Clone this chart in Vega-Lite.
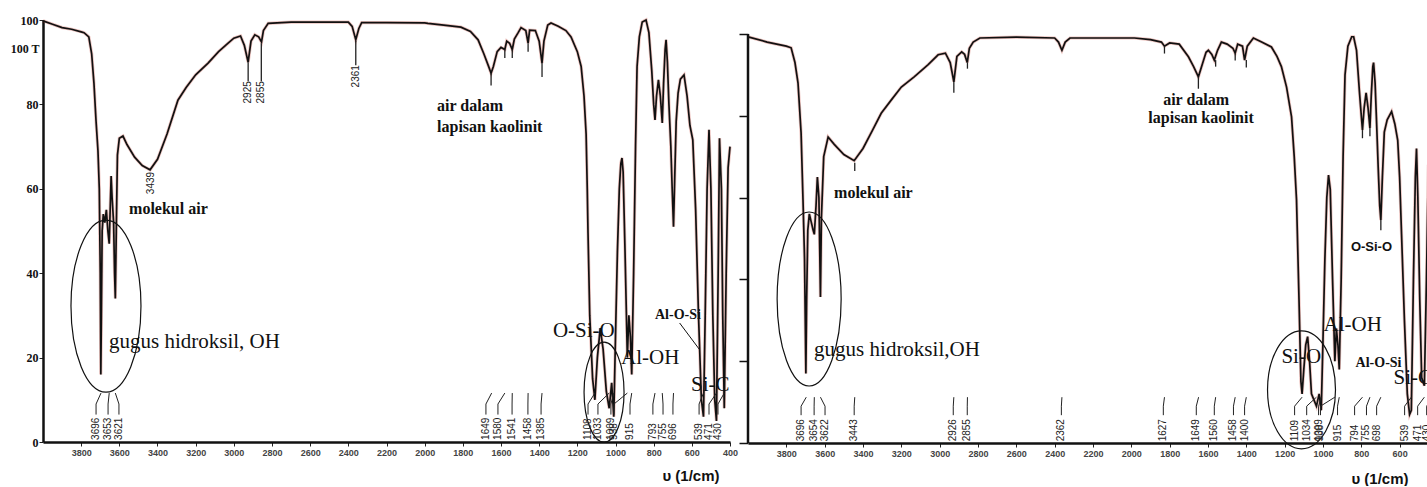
{
"$schema":"https://vega.github.io/schema/vega-lite/v6.json",
"autosize":{"type":"pad"},
"padding":{"left":9,"top":13,"right":0,"bottom":0},
"background":"white",
"config":{"view":{"stroke":null},"axis":{"grid":false}},
"datasets":{
"left":[
{"w":4000,"t":99.8},{"w":3950,"t":99.0},{"w":3900,"t":98.2},{"w":3850,"t":97.8},{"w":3800,"t":97.2},{"w":3785,"t":97.0},{"w":3760,"t":96},{"w":3745,"t":92},{"w":3733,"t":85},{"w":3722,"t":76},{"w":3712,"t":69},{"w":3705,"t":60},{"w":3700,"t":40},{"w":3697,"t":16},{"w":3694,"t":30},{"w":3690,"t":50},{"w":3684,"t":54},{"w":3676,"t":52},{"w":3668,"t":55},{"w":3660,"t":50},{"w":3653,"t":47},{"w":3648,"t":55},{"w":3643,"t":63},{"w":3638,"t":58},{"w":3630,"t":52},{"w":3625,"t":40},{"w":3621,"t":34},{"w":3616,"t":50},{"w":3610,"t":68},{"w":3600,"t":72},{"w":3581,"t":72.5},{"w":3560,"t":70.5},{"w":3520,"t":67.5},{"w":3480,"t":65.5},{"w":3439,"t":64.5},{"w":3400,"t":67},{"w":3350,"t":73},{"w":3293,"t":81},{"w":3250,"t":84},{"w":3200,"t":87},{"w":3135,"t":89.8},{"w":3080,"t":92.5},{"w":3030,"t":94.5},{"w":3000,"t":95.7},{"w":2965,"t":96.2},{"w":2945,"t":94},{"w":2925,"t":90},{"w":2910,"t":95},{"w":2890,"t":96.5},{"w":2870,"t":96},{"w":2855,"t":94.8},{"w":2845,"t":97.5},{"w":2820,"t":99.2},{"w":2700,"t":99.5},{"w":2500,"t":99.5},{"w":2400,"t":99.5},{"w":2380,"t":98.5},{"w":2361,"t":95.3},{"w":2345,"t":98},{"w":2330,"t":99.4},{"w":2200,"t":99.4},{"w":2000,"t":99.3},{"w":1983,"t":99.2},{"w":1900,"t":98.8},{"w":1810,"t":98.3},{"w":1760,"t":97.3},{"w":1720,"t":95.3},{"w":1690,"t":92},{"w":1665,"t":89},{"w":1652,"t":87.4},{"w":1640,"t":89},{"w":1620,"t":92.5},{"w":1600,"t":93.5},{"w":1580,"t":93},{"w":1570,"t":95},{"w":1555,"t":94.5},{"w":1541,"t":93},{"w":1530,"t":95.5},{"w":1510,"t":97},{"w":1495,"t":98.2},{"w":1470,"t":97.5},{"w":1458,"t":94.5},{"w":1450,"t":97.6},{"w":1420,"t":97.5},{"w":1400,"t":95},{"w":1385,"t":89.8},{"w":1375,"t":95},{"w":1355,"t":98.8},{"w":1338,"t":99.3},{"w":1300,"t":98.5},{"w":1260,"t":97.5},{"w":1233,"t":96},{"w":1200,"t":92.5},{"w":1180,"t":89},{"w":1165,"t":82},{"w":1154,"t":73},{"w":1148,"t":60},{"w":1144,"t":49.5},{"w":1135,"t":30},{"w":1120,"t":15},{"w":1108,"t":10},{"w":1095,"t":20},{"w":1080,"t":27},{"w":1065,"t":22},{"w":1048,"t":12},{"w":1033,"t":8},{"w":1020,"t":14},{"w":1009,"t":6},{"w":1000,"t":25},{"w":990,"t":45},{"w":980,"t":60},{"w":972,"t":66},{"w":966,"t":67.3},{"w":960,"t":64},{"w":950,"t":45},{"w":938,"t":20},{"w":930,"t":30},{"w":922,"t":25},{"w":915,"t":16},{"w":905,"t":40},{"w":895,"t":70},{"w":887,"t":89},{"w":875,"t":96},{"w":860,"t":99.5},{"w":840,"t":100},{"w":825,"t":97},{"w":810,"t":88},{"w":800,"t":80},{"w":793,"t":76.3},{"w":785,"t":82},{"w":775,"t":85.8},{"w":765,"t":82},{"w":755,"t":75.6},{"w":748,"t":85},{"w":740,"t":93},{"w":735,"t":95.3},{"w":728,"t":90},{"w":720,"t":80},{"w":710,"t":70},{"w":703,"t":60},{"w":696,"t":51},{"w":690,"t":62},{"w":682,"t":76},{"w":672,"t":82.7},{"w":660,"t":86},{"w":641,"t":87},{"w":625,"t":82},{"w":610,"t":75},{"w":595,"t":71.6},{"w":580,"t":55},{"w":565,"t":30},{"w":550,"t":10},{"w":539,"t":6},{"w":530,"t":30},{"w":520,"t":60},{"w":510,"t":74},{"w":500,"t":60},{"w":490,"t":30},{"w":480,"t":10},{"w":471,"t":5},{"w":462,"t":40},{"w":455,"t":72},{"w":445,"t":60},{"w":438,"t":30},{"w":430,"t":8},{"w":420,"t":40},{"w":410,"t":65},{"w":400,"t":70}
],
"right":[
{"w":4000,"t":99.3},{"w":3900,"t":98},{"w":3800,"t":97},{"w":3775,"t":96.6},{"w":3755,"t":93},{"w":3739,"t":88},{"w":3723,"t":75.8},{"w":3713,"t":59.4},{"w":3705,"t":45},{"w":3698,"t":17},{"w":3694,"t":35},{"w":3688,"t":52},{"w":3680,"t":56},{"w":3670,"t":54},{"w":3660,"t":52},{"w":3654,"t":51},{"w":3645,"t":58},{"w":3638,"t":65},{"w":3630,"t":60},{"w":3626,"t":48},{"w":3622,"t":35.7},{"w":3617,"t":55},{"w":3605,"t":70},{"w":3582,"t":74.8},{"w":3550,"t":73},{"w":3500,"t":70.5},{"w":3446,"t":69},{"w":3400,"t":72},{"w":3350,"t":76.5},{"w":3305,"t":80.6},{"w":3250,"t":84},{"w":3200,"t":87},{"w":3133,"t":89.5},{"w":3060,"t":92.5},{"w":3008,"t":94.9},{"w":2970,"t":95.3},{"w":2945,"t":93},{"w":2926,"t":88.3},{"w":2910,"t":94.5},{"w":2885,"t":95.6},{"w":2870,"t":95},{"w":2856,"t":93},{"w":2845,"t":96.5},{"w":2825,"t":98},{"w":2790,"t":99},{"w":2600,"t":99.2},{"w":2400,"t":99},{"w":2380,"t":98},{"w":2362,"t":96},{"w":2345,"t":98},{"w":2320,"t":99},{"w":2100,"t":99},{"w":1984,"t":99},{"w":1900,"t":98.6},{"w":1843,"t":98},{"w":1827,"t":97},{"w":1800,"t":97.8},{"w":1750,"t":97.5},{"w":1702,"t":94.4},{"w":1675,"t":92},{"w":1650,"t":89.5},{"w":1630,"t":92.5},{"w":1610,"t":95.5},{"w":1598,"t":96},{"w":1580,"t":95},{"w":1567,"t":93.6},{"w":1550,"t":96},{"w":1530,"t":98},{"w":1500,"t":97.5},{"w":1470,"t":96.5},{"w":1458,"t":95.3},{"w":1445,"t":97.5},{"w":1420,"t":97},{"w":1409,"t":93.6},{"w":1395,"t":97},{"w":1363,"t":99},{"w":1320,"t":98},{"w":1269,"t":96.8},{"w":1240,"t":94.5},{"w":1217,"t":92},{"w":1190,"t":87},{"w":1164,"t":79.7},{"w":1150,"t":70},{"w":1138,"t":59.4},{"w":1125,"t":35},{"w":1115,"t":15},{"w":1109,"t":12},{"w":1100,"t":18},{"w":1090,"t":24},{"w":1080,"t":26},{"w":1070,"t":20},{"w":1060,"t":12},{"w":1034,"t":9},{"w":1020,"t":12},{"w":1009,"t":8},{"w":1000,"t":25},{"w":990,"t":45},{"w":980,"t":60},{"w":971,"t":65.5},{"w":962,"t":62},{"w":950,"t":40},{"w":938,"t":20},{"w":930,"t":28},{"w":922,"t":24},{"w":915,"t":18},{"w":905,"t":40},{"w":895,"t":70},{"w":885,"t":90},{"w":870,"t":97},{"w":850,"t":99.3},{"w":840,"t":99.3},{"w":825,"t":96},{"w":810,"t":86},{"w":800,"t":80},{"w":794,"t":76.5},{"w":785,"t":82},{"w":775,"t":85.6},{"w":765,"t":82},{"w":755,"t":77},{"w":748,"t":85},{"w":740,"t":92},{"w":736,"t":93},{"w":728,"t":88},{"w":720,"t":78},{"w":712,"t":67.5},{"w":704,"t":58},{"w":698,"t":54.5},{"w":690,"t":65},{"w":680,"t":76},{"w":665,"t":79},{"w":642,"t":81},{"w":625,"t":78},{"w":610,"t":74},{"w":600,"t":65},{"w":590,"t":51},{"w":575,"t":30},{"w":560,"t":12},{"w":548,"t":7},{"w":539,"t":8},{"w":528,"t":40},{"w":518,"t":65},{"w":512,"t":72},{"w":505,"t":60},{"w":495,"t":35},{"w":485,"t":16},{"w":471,"t":14},{"w":460,"t":40},{"w":450,"t":68},{"w":440,"t":55},{"w":430,"t":12},{"w":420,"t":40},{"w":400,"t":60}
]
},
"hconcat":[
{
"width":687,"height":422,
"layer":[
{"data":{"name":"left"},
"mark":{"type":"line","color":"#c0392b","strokeWidth":3.2,"opacity":0.3},
"encoding":{
"x":{"field":"w","type":"quantitative","scale":{"domain":[4000,400],"nice":false,"zero":false},
"axis":{"values":[3800,3600,3400,3200,3000,2800,2600,2400,2200,2000,1800,1600,1400,1200,1000,800,600,400],"format":"d","labelFont":"Liberation Sans","labelFontSize":9,"labelFontWeight":"bold","labelColor":"#444","tickSize":4,"tickColor":"#222","domainColor":"#111","domainWidth":2.5,"labelPadding":2,"labelFlush":false,"labelOverlap":false,"title":"υ (1/cm)","titleFont":"Liberation Sans","titleFontSize":15,"titleFontWeight":"bold","titleColor":"#111","titleAlign":"right","titleBaseline":"middle","titleX":676,"titleY":33}},
"y":{"field":"t","type":"quantitative","scale":{"domain":[0,100],"nice":false,"zero":false},
"axis":{"values":[0,20,40,60,80,100],"labelFont":"Liberation Serif","labelFontSize":12,"labelFontWeight":"bold","labelColor":"#111","tickSize":4,"tickColor":"#222","domainWidth":2.5,"domainColor":"#111","labelPadding":1,"labelFlush":false,"title":"100 T","titleFont":"Liberation Serif","titleFontSize":12,"titleFontWeight":"bold","titleColor":"#111","titleAngle":0,"titleAlign":"right","titleBaseline":"middle","titleX":-4,"titleY":28}}
}},
{"data":{"name":"left"},
"mark":{"type":"line","color":"#111","strokeWidth":1.7},
"encoding":{"x":{"field":"w","type":"quantitative","scale":{"domain":[4000,400],"nice":false,"zero":false}},"y":{"field":"t","type":"quantitative","scale":{"domain":[0,100],"nice":false,"zero":false}}}},
{"data":{"values":[{"w":3670,"t":32.2}]},
"mark":{"type":"point","filled":false,"stroke":"#111","strokeWidth":1.2,"opacity":1,"size":29584,"shape":"M0,-1C0.2248,-1,0.407,-0.5523,0.407,0C0.407,0.5523,0.2248,1,0,1C-0.2248,1,-0.407,0.5523,-0.407,0C-0.407,-0.5523,-0.2248,-1,0,-1Z"},
"encoding":{"x":{"field":"w","type":"quantitative","scale":{"domain":[4000,400],"nice":false,"zero":false}},"y":{"field":"t","type":"quantitative","scale":{"domain":[0,100],"nice":false,"zero":false}}}},
{"data":{"values":[{"w":1060,"t":11.8}]},
"mark":{"type":"point","filled":false,"stroke":"#111","strokeWidth":1.2,"opacity":1,"size":10000,"shape":"M0,-1C0.2209,-1,0.4,-0.5523,0.4,0C0.4,0.5523,0.2209,1,0,1C-0.2209,1,-0.4,0.5523,-0.4,0C-0.4,-0.5523,-0.2209,-1,0,-1Z"},
"encoding":{"x":{"field":"w","type":"quantitative","scale":{"domain":[4000,400],"nice":false,"zero":false}},"y":{"field":"t","type":"quantitative","scale":{"domain":[0,100],"nice":false,"zero":false}}}},
{"data":{"values":[{"w":3654,"t":23.7,"label":"gugus hidroksil, OH"},{"w":1328,"t":26.3,"label":"O-Si-O"},{"w":971,"t":19.9,"label":"Al-OH"},{"w":604,"t":13.5,"label":"Si-C"}]},
"mark":{"type":"text","align":"left","baseline":"middle","font":"Liberation Serif","fontSize":21,"color":"#111","clip":true},
"encoding":{"x":{"field":"w","type":"quantitative","scale":{"domain":[4000,400],"nice":false,"zero":false}},"y":{"field":"t","type":"quantitative","scale":{"domain":[0,100],"nice":false,"zero":false}},"text":{"field":"label"}}},
{"data":{"values":[{"w":3549,"t":55.2,"label":"molekul air"},{"w":1935,"t":79.6,"label":"air dalam"},{"w":1935,"t":74.6,"label":"lapisan kaolinit"}]},
"mark":{"type":"text","align":"left","baseline":"middle","font":"Liberation Serif","fontSize":16,"fontWeight":"bold","color":"#111"},
"encoding":{"x":{"field":"w","type":"quantitative","scale":{"domain":[4000,400],"nice":false,"zero":false}},"y":{"field":"t","type":"quantitative","scale":{"domain":[0,100],"nice":false,"zero":false}},"text":{"field":"label"}}},
{"data":{"values":[{"w":673,"t":30,"label":"Al-O-Si"}]},
"mark":{"type":"text","align":"center","baseline":"middle","font":"Liberation Serif","fontSize":14,"fontWeight":"bold","color":"#111"},
"encoding":{"x":{"field":"w","type":"quantitative","scale":{"domain":[4000,400],"nice":false,"zero":false}},"y":{"field":"t","type":"quantitative","scale":{"domain":[0,100],"nice":false,"zero":false}},"text":{"field":"label"}}},
{"data":{"values":[{"w":664,"t":28.2,"w2":558,"t2":21.8}]},
"mark":{"type":"rule","color":"#111","strokeWidth":1},
"encoding":{"x":{"field":"w","type":"quantitative","scale":{"domain":[4000,400],"nice":false,"zero":false}},"x2":{"field":"w2"},"y":{"field":"t","type":"quantitative","scale":{"domain":[0,100],"nice":false,"zero":false}},"y2":{"field":"t2"}}},
{"data":{"values":[{"w":3722,"p":3696,"label":"3696"},{"w":3659,"p":3653,"label":"3653"},{"w":3602,"p":3621,"label":"3621"},{"w":1679,"p":1649,"label":"1649"},{"w":1616,"p":1580,"label":"1580"},{"w":1542,"p":1541,"label":"1541"},{"w":1459,"p":1458,"label":"1458"},{"w":1390,"p":1385,"label":"1385"},{"w":1144,"p":1108,"label":"1108"},{"w":1092,"p":1033,"label":"1033"},{"w":1024,"p":1009,"label":"1009"},{"w":1008,"p":938,"label":"938"},{"w":924,"p":915,"label":"915"},{"w":804,"p":793,"label":"793"},{"w":751,"p":755,"label":"755"},{"w":699,"p":696,"label":"696"},{"w":562,"p":539,"label":"539"},{"w":510,"p":471,"label":"471"},{"w":463,"p":430,"label":"430"}]},
"layer":[
{"mark":{"type":"text","angle":270,"align":"left","baseline":"middle","font":"Liberation Sans","fontSize":10,"color":"#222"},
"encoding":{"x":{"field":"w","type":"quantitative","scale":{"domain":[4000,400],"nice":false,"zero":false}},"y":{"datum":0.5,"type":"quantitative","scale":{"domain":[0,100],"nice":false,"zero":false}},"text":{"field":"label"}}},
{"mark":{"type":"rule","color":"#222","strokeWidth":1},
"encoding":{"x":{"field":"w","type":"quantitative","scale":{"domain":[4000,400],"nice":false,"zero":false}},"y":{"datum":6.5,"type":"quantitative","scale":{"domain":[0,100],"nice":false,"zero":false}},"y2":{"datum":9}}},
{"mark":{"type":"rule","color":"#222","strokeWidth":1},
"encoding":{"x":{"field":"w","type":"quantitative","scale":{"domain":[4000,400],"nice":false,"zero":false}},"x2":{"field":"p"},"y":{"datum":9,"type":"quantitative","scale":{"domain":[0,100],"nice":false,"zero":false}},"y2":{"datum":11.6}}}
]},
{"data":{"values":[{"w":3434,"t":64,"label":"3439"},{"w":2926,"t":85.5,"label":"2925"},{"w":2858,"t":85.5,"label":"2855"},{"w":2360,"t":89.3,"label":"2361"}]},
"mark":{"type":"text","angle":270,"align":"right","baseline":"middle","font":"Liberation Sans","fontSize":10,"color":"#222"},
"encoding":{"x":{"field":"w","type":"quantitative","scale":{"domain":[4000,400],"nice":false,"zero":false}},"y":{"field":"t","type":"quantitative","scale":{"domain":[0,100],"nice":false,"zero":false}},"text":{"field":"label"}}},
{"data":{"values":[{"w":2925,"t":90,"t2":85.5},{"w":2856,"t":94.5,"t2":85.5},{"w":2361,"t":95,"t2":89.3},{"w":1652,"t":87.4,"t2":84.5},{"w":1580,"t":93,"t2":91},{"w":1541,"t":93,"t2":91},{"w":1458,"t":94.5,"t2":92.5},{"w":1385,"t":89.8,"t2":86.5}]},
"mark":{"type":"rule","color":"#222","strokeWidth":1.3},
"encoding":{"x":{"field":"w","type":"quantitative","scale":{"domain":[4000,400],"nice":false,"zero":false}},"y":{"field":"t","type":"quantitative","scale":{"domain":[0,100],"nice":false,"zero":false}},"y2":{"field":"t2"}}}
]
},
{
"width":680,"height":423,
"layer":[
{"data":{"name":"right"},
"mark":{"type":"line","color":"#c0392b","strokeWidth":3.2,"opacity":0.3,"clip":true},
"encoding":{
"x":{"field":"w","type":"quantitative","scale":{"domain":[4000,452],"nice":false,"zero":false},
"axis":{"values":[3800,3600,3400,3200,3000,2800,2600,2400,2200,2000,1800,1600,1400,1200,1000,800,600],"format":"d","labelFont":"Liberation Sans","labelFontSize":9,"labelFontWeight":"bold","labelColor":"#444","tickSize":4,"tickColor":"#222","domainColor":"#111","domainWidth":2.5,"labelPadding":2,"labelFlush":false,"labelOverlap":false,"title":"υ (1/cm)","titleFont":"Liberation Sans","titleFontSize":15,"titleFontWeight":"bold","titleColor":"#111","titleAlign":"right","titleBaseline":"middle","titleX":660,"titleY":35}},
"y":{"field":"t","type":"quantitative","scale":{"domain":[0,103.4],"nice":false,"zero":false},
"axis":{"values":[0,20,40,60,80,100],"labels":false,"domain":false,"tickSize":9,"tickWidth":1.5,"tickColor":"#111","title":null}}
}},
{"data":{"name":"right"},
"mark":{"type":"line","color":"#111","strokeWidth":1.7,"clip":true},
"encoding":{"x":{"field":"w","type":"quantitative","scale":{"domain":[4000,452],"nice":false,"zero":false}},"y":{"field":"t","type":"quantitative","scale":{"domain":[0,103.4],"nice":false,"zero":false}}}},
{"data":{"values":[{"w":4000,"t":0,"t2":100}]},
"mark":{"type":"rule","color":"#111","strokeWidth":2.5},
"encoding":{"x":{"field":"w","type":"quantitative","scale":{"domain":[4000,452],"nice":false,"zero":false}},"y":{"field":"t","type":"quantitative","scale":{"domain":[0,103.4],"nice":false,"zero":false}},"y2":{"field":"t2"}}},
{"data":{"values":[{"w":3681,"t":35.2}]},
"mark":{"type":"point","filled":false,"stroke":"#111","strokeWidth":1.2,"opacity":1,"size":30276,"shape":"M0,-1C0.2032,-1,0.368,-0.5523,0.368,0C0.368,0.5523,0.2032,1,0,1C-0.2032,1,-0.368,0.5523,-0.368,0C-0.368,-0.5523,-0.2032,-1,0,-1Z"},
"encoding":{"x":{"field":"w","type":"quantitative","scale":{"domain":[4000,452],"nice":false,"zero":false}},"y":{"field":"t","type":"quantitative","scale":{"domain":[0,103.4],"nice":false,"zero":false}}}},
{"data":{"values":[{"w":1112,"t":13}]},
"mark":{"type":"point","filled":false,"stroke":"#111","strokeWidth":1.2,"opacity":1,"size":13924,"shape":"M0,-1C0.3181,-1,0.576,-0.5523,0.576,0C0.576,0.5523,0.3181,1,0,1C-0.3181,1,-0.576,0.5523,-0.576,0C-0.576,-0.5523,-0.3181,-1,0,-1Z"},
"encoding":{"x":{"field":"w","type":"quantitative","scale":{"domain":[4000,452],"nice":false,"zero":false}},"y":{"field":"t","type":"quantitative","scale":{"domain":[0,103.4],"nice":false,"zero":false}}}},
{"data":{"values":[{"w":3655,"t":22.7,"label":"gugus hidroksil,OH"},{"w":997,"t":28.9,"label":"Al-OH"},{"w":1217,"t":21,"label":"Si-O"},{"w":632,"t":15.9,"label":"Si-C"}]},
"mark":{"type":"text","align":"left","baseline":"middle","font":"Liberation Serif","fontSize":21,"color":"#111","clip":true},
"encoding":{"x":{"field":"w","type":"quantitative","scale":{"domain":[4000,452],"nice":false,"zero":false}},"y":{"field":"t","type":"quantitative","scale":{"domain":[0,103.4],"nice":false,"zero":false}},"text":{"field":"label"}}},
{"data":{"values":[{"w":3551,"t":61.1,"label":"molekul air"},{"w":1834,"t":83.9,"label":"air dalam"},{"w":1911,"t":79.5,"label":"lapisan  kaolinit"}]},
"mark":{"type":"text","align":"left","baseline":"middle","font":"Liberation Serif","fontSize":16,"fontWeight":"bold","color":"#111"},
"encoding":{"x":{"field":"w","type":"quantitative","scale":{"domain":[4000,452],"nice":false,"zero":false}},"y":{"field":"t","type":"quantitative","scale":{"domain":[0,103.4],"nice":false,"zero":false}},"text":{"field":"label"}}},
{"data":{"values":[{"w":710,"t":19.6,"label":"Al-O-Si"}]},
"mark":{"type":"text","align":"center","baseline":"middle","font":"Liberation Serif","fontSize":14,"fontWeight":"bold","color":"#111"},
"encoding":{"x":{"field":"w","type":"quantitative","scale":{"domain":[4000,452],"nice":false,"zero":false}},"y":{"field":"t","type":"quantitative","scale":{"domain":[0,103.4],"nice":false,"zero":false}},"text":{"field":"label"}}},
{"data":{"values":[{"w":747,"t":47.9,"label":"O-Si-O"}]},
"mark":{"type":"text","align":"center","baseline":"middle","font":"Liberation Sans","fontSize":13,"fontWeight":"bold","color":"#111"},
"encoding":{"x":{"field":"w","type":"quantitative","scale":{"domain":[4000,452],"nice":false,"zero":false}},"y":{"field":"t","type":"quantitative","scale":{"domain":[0,103.4],"nice":false,"zero":false}},"text":{"field":"label"}}},
{"data":{"values":[{"w":3723,"p":3696,"label":"3696"},{"w":3655,"p":3654,"label":"3654"},{"w":3598,"p":3622,"label":"3622"},{"w":3446,"p":3443,"label":"3443"},{"w":2929,"p":2926,"label":"2926"},{"w":2856,"p":2855,"label":"2855"},{"w":2365,"p":2362,"label":"2362"},{"w":1833,"p":1827,"label":"1627"},{"w":1661,"p":1649,"label":"1649"},{"w":1567,"p":1560,"label":"1560"},{"w":1467,"p":1458,"label":"1458"},{"w":1409,"p":1400,"label":"1400"},{"w":1148,"p":1109,"label":"1109"},{"w":1085,"p":1034,"label":"1034"},{"w":1023,"p":1009,"label":"1009"},{"w":1013,"p":938,"label":"938"},{"w":924,"p":915,"label":"915"},{"w":835,"p":794,"label":"794"},{"w":773,"p":755,"label":"755"},{"w":720,"p":698,"label":"698"},{"w":574,"p":539,"label":"539"},{"w":506,"p":471,"label":"471"},{"w":459,"p":430,"label":"430"}]},
"layer":[
{"mark":{"type":"text","angle":270,"align":"left","baseline":"middle","font":"Liberation Sans","fontSize":10,"color":"#222","clip":true},
"encoding":{"x":{"field":"w","type":"quantitative","scale":{"domain":[4000,452],"nice":false,"zero":false}},"y":{"datum":0.4,"type":"quantitative","scale":{"domain":[0,103.4],"nice":false,"zero":false}},"text":{"field":"label"}}},
{"mark":{"type":"rule","color":"#222","strokeWidth":1,"clip":true},
"encoding":{"x":{"field":"w","type":"quantitative","scale":{"domain":[4000,452],"nice":false,"zero":false}},"y":{"datum":6.8,"type":"quantitative","scale":{"domain":[0,103.4],"nice":false,"zero":false}},"y2":{"datum":9}}},
{"mark":{"type":"rule","color":"#222","strokeWidth":1,"clip":true},
"encoding":{"x":{"field":"w","type":"quantitative","scale":{"domain":[4000,452],"nice":false,"zero":false}},"x2":{"field":"p"},"y":{"datum":9,"type":"quantitative","scale":{"domain":[0,103.4],"nice":false,"zero":false}},"y2":{"datum":11.2}}}
]},
{"data":{"values":[{"w":3443,"t":68.5,"t2":66.5},{"w":2926,"t":88.3,"t2":85.6},{"w":2855,"t":93,"t2":91.5},{"w":1827,"t":97,"t2":95.2},{"w":1650,"t":89.5,"t2":86.6},{"w":1560,"t":93.6,"t2":92},{"w":1458,"t":95.3,"t2":93.5},{"w":1400,"t":93.6,"t2":91.8},{"w":794,"t":76.5,"t2":74.5},{"w":755,"t":77,"t2":75},{"w":698,"t":54.5,"t2":52}]},
"mark":{"type":"rule","color":"#222","strokeWidth":1.3},
"encoding":{"x":{"field":"w","type":"quantitative","scale":{"domain":[4000,452],"nice":false,"zero":false}},"y":{"field":"t","type":"quantitative","scale":{"domain":[0,103.4],"nice":false,"zero":false}},"y2":{"field":"t2"}}}
]
}
],
"spacing":18,
"bounds":"flush"
}
